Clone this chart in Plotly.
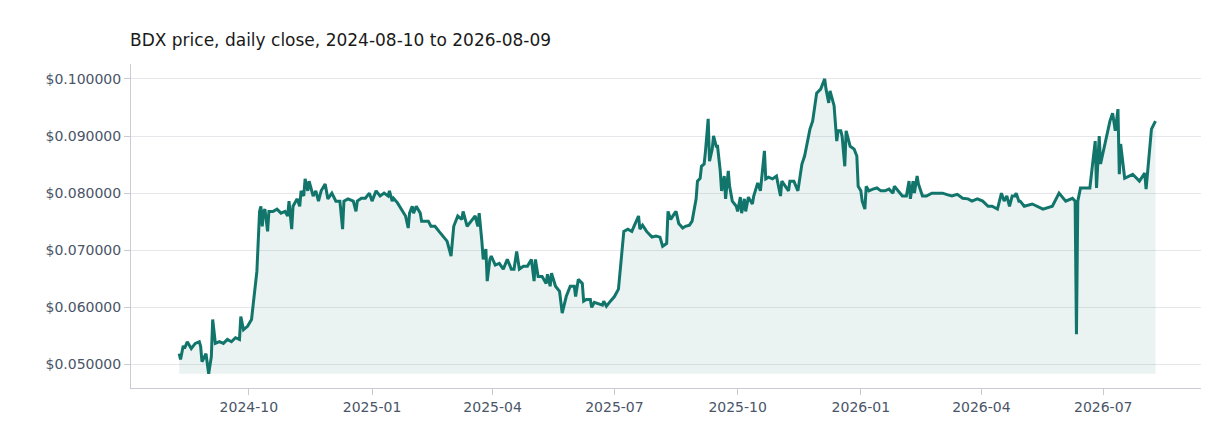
import datetime as dt
import plotly.graph_objects as go

start = dt.date(2024, 8, 10)
day = [0,1,3,4,6,9,12,15,16,17,20,22,24,25,27,30,33,36,39,42,45,46,48,51,54,55,58,60,61,62,63,64,66,67,70,73,76,79,81,82,84,85,88,90,91,93,94,96,97,100,102,104,106,109,111,114,117,120,122,123,126,130,132,133,136,139,142,144,147,150,153,156,157,159,160,163,166,169,171,172,174,175,177,180,181,186,188,191,194,197,200,203,205,208,211,212,215,218,221,223,224,226,227,229,230,232,233,236,239,242,245,248,250,252,254,257,260,263,265,266,268,271,274,275,277,278,281,284,286,289,292,295,296,298,301,302,304,307,308,310,313,316,317,319,322,325,328,330,332,335,338,340,343,344,346,349,352,353,356,359,361,364,365,367,370,371,373,376,378,381,383,386,387,389,390,392,393,395,396,398,399,401,402,404,405,407,408,410,411,413,416,417,419,420,422,423,425,428,429,432,434,437,438,440,443,446,447,449,450,453,455,456,459,462,464,465,467,470,471,473,474,476,479,480,482,483,485,486,488,489,491,492,494,495,497,498,500,501,504,506,507,509,510,512,513,515,518,521,524,527,530,533,534,537,540,543,545,546,548,549,551,552,554,555,558,562,566,570,574,577,581,585,589,592,596,600,604,607,611,614,616,618,619,620,622,624,625,627,628,631,637,645,652,657,662,667,669,670,671,673,680,684,685,687,688,695,697,699,701,702,703,706,712,717,721,722,726,729]
price = [.0519,.0509,.0533,.0528,.0540,.0528,.0537,.0540,.0532,.0505,.0519,.0484,.0514,.0579,.0537,.0540,.0537,.0544,.0540,.0547,.0544,.0584,.0561,.0567,.0579,.0602,.0663,.0768,.0777,.0742,.0768,.0772,.0733,.0768,.0768,.0772,.0765,.0768,.0760,.0786,.0737,.0777,.0790,.0777,.0804,.0795,.0825,.0804,.0821,.0795,.0804,.0786,.0804,.0816,.0790,.0800,.0786,.0786,.0737,.0786,.0790,.0786,.0768,.0786,.0791,.0791,.0800,.0786,.0804,.0795,.0800,.0795,.0804,.0786,.0791,.0783,.0772,.0760,.0739,.0765,.0777,.0765,.0777,.0765,.0751,.0751,.0742,.0742,.0733,.0725,.0716,.0690,.0742,.0760,.0754,.0768,.0742,.0751,.0760,.0742,.0765,.0716,.0684,.0702,.0646,.0684,.0690,.0674,.0677,.0667,.0684,.0667,.0667,.0698,.0667,.0672,.0672,.0684,.0646,.0684,.0654,.0654,.0642,.0658,.0637,.0660,.0637,.0628,.0590,.0619,.0637,.0637,.0619,.0649,.0642,.0611,.0614,.0614,.0600,.0609,.0607,.0604,.0611,.0602,.0611,.0619,.0632,.0684,.0733,.0737,.0733,.0744,.0760,.0737,.0744,.0733,.0726,.0723,.0725,.0723,.0707,.0712,.0768,.0754,.0765,.0768,.0747,.0739,.0742,.0744,.0751,.0790,.0821,.0826,.0847,.0851,.0874,.0930,.0856,.0877,.0900,.0882,.0882,.0839,.0804,.0830,.0790,.0839,.0812,.0786,.0777,.0768,.0793,.0765,.0790,.0768,.0793,.0781,.0795,.0818,.0804,.0874,.0825,.0828,.0825,.0830,.0818,.0795,.0821,.0812,.0804,.0821,.0821,.0804,.0839,.0851,.0865,.0905,.0912,.0926,.0944,.0975,.0982,.0988,.1000,.0982,.0958,.0979,.0961,.0953,.0891,.0909,.0909,.0900,.0847,.0909,.0891,.0882,.0877,.0865,.0812,.0804,.0786,.0772,.0812,.0804,.0807,.0809,.0804,.0804,.0807,.0800,.0812,.0804,.0795,.0795,.0821,.0790,.0821,.0800,.0830,.0816,.0800,.0795,.0795,.0800,.0800,.0800,.0797,.0795,.0798,.0791,.0790,.0786,.0790,.0786,.0777,.0777,.0772,.0800,.0786,.0795,.0786,.0777,.0795,.0795,.0800,.0786,.0786,.0777,.0781,.0772,.0777,.0800,.0786,.0791,.0786,.0553,.0786,.0809,.0809,.0891,.0809,.0900,.0851,.0926,.0940,.0909,.0947,.0833,.0886,.0826,.0833,.0821,.0835,.0807,.0912,.0926]

dates = [start + dt.timedelta(days=d) for d in day]
base = min(price)
line_color = "#11756b"

fig = go.Figure()
fig.add_trace(go.Scatter(x=dates, y=[base] * len(dates), mode="lines",
                         line=dict(width=0), hoverinfo="skip", showlegend=False))
fig.add_trace(go.Scatter(x=dates, y=price, mode="lines", fill="tonexty",
                         fillcolor="rgba(17,117,107,0.09)",
                         line=dict(color=line_color, width=3), showlegend=False))

fig.update_layout(
    width=1232, height=448,
    margin=dict(l=123, r=39, t=56, b=68),
    paper_bgcolor="white", plot_bgcolor="white",
    font=dict(family="DejaVu Sans", color="#4a5568", size=14),
    title=dict(text="BDX price, daily close, 2024-08-10 to 2026-08-09",
               x=122/1232, xanchor="left", y=1-32/448, yanchor="middle",
               font=dict(size=17, color="#1a1a1a")),
    xaxis=dict(range=[dt.date(2024, 7, 5), dt.date(2026, 9, 12)],
               tickformat="%Y-%m", dtick="M3", tick0="2024-10-01",
               showgrid=False, showline=True, linecolor="#c8ccd2",
               ticks="outside", tickcolor="#c8ccd2", ticklen=6, automargin=False),
    yaxis=dict(range=[0.0459, 0.1026], tickformat="$.6f", dtick=0.01, tick0=0.05,
               showgrid=True, gridcolor="#e5e7eb", showline=True,
               linecolor="#c8ccd2", ticks="outside", tickcolor="#c8ccd2",
               ticklen=6, zeroline=False, automargin=False),
)
fig.write_html("out.html")
